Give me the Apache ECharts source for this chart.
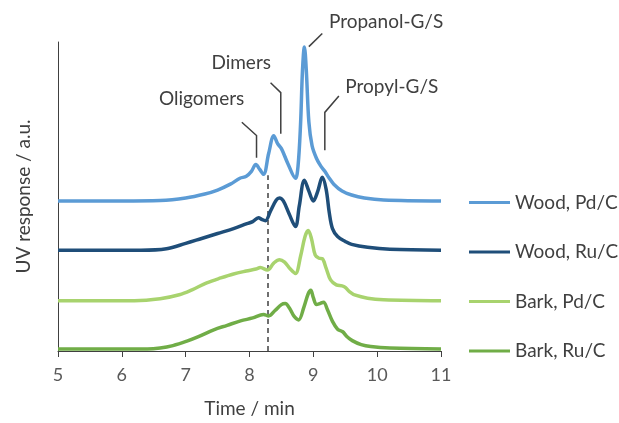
<!DOCTYPE html>
<html>
<head>
<meta charset="utf-8">
<script src="https://cdn.jsdelivr.net/npm/echarts@6/dist/echarts.min.js"></script>
<style>
  html, body { margin: 0; padding: 0; background: #ffffff; }
  #chart { width: 619px; height: 423px; }
</style>
</head>
<body>
<div id="chart"></div>
<script>
// Chromatogram traces: [time / min, UV response above each trace's own baseline]
const woodPd = [[5,0],[6,0],[6.6,0.5],[7,3],[7.3,7],[7.5,11],[7.7,17],[7.85,23],[7.95,25],[8.03,30],[8.1,37],[8.16,32],[8.22,27],[8.3,48],[8.38,66],[8.44,58],[8.5,53],[8.6,38],[8.72,23],[8.76,35],[8.8,78],[8.83,132],[8.86,156],[8.89,132],[8.93,80],[8.98,56],[9.05,43],[9.12,35],[9.18,30],[9.25,23],[9.32,17],[9.45,10],[9.6,6],[9.8,3],[10.1,1],[11,0]];
const woodRu = [[5,0],[6.3,0],[6.7,1.5],[7.0,7],[7.25,12],[7.5,17],[7.75,22],[7.96,27],[8.05,29],[8.14,33],[8.2,31],[8.25,30],[8.33,40],[8.42,51],[8.47,53],[8.53,50],[8.62,37],[8.72,24],[8.78,45],[8.86,71],[8.93,60],[9.0,50],[9.07,60],[9.14,74],[9.2,62],[9.25,38],[9.3,22],[9.38,14],[9.5,9],[9.6,6],[9.85,3],[10.2,1],[11,0]];
const barkPd = [[5,0],[6.2,0],[6.6,2],[6.9,6],[7.1,11],[7.33,18],[7.55,23],[7.75,27],[7.95,30],[8.1,32],[8.17,33.5],[8.28,31],[8.38,38],[8.47,41.5],[8.55,39],[8.64,32],[8.72,27.5],[8.8,45],[8.87,65],[8.92,71],[8.97,63],[9.03,46],[9.09,43],[9.14,42.5],[9.2,33],[9.27,21],[9.36,16],[9.45,15],[9.5,13.5],[9.57,9],[9.66,5.5],[9.85,2.5],[10.1,1],[11,0]];
const barkRu = [[5,0],[6.4,0],[6.6,1],[6.8,3.5],[7.02,8],[7.2,12.5],[7.44,19.5],[7.65,24],[7.86,28.5],[8.05,31.5],[8.22,35],[8.3,33.5],[8.4,39],[8.5,45],[8.56,46],[8.63,41],[8.7,33],[8.77,29.5],[8.85,42],[8.92,56],[8.96,59.5],[9.0,52],[9.05,45],[9.1,46],[9.16,47.5],[9.22,40],[9.3,28],[9.38,20],[9.46,17.5],[9.52,13],[9.61,8.5],[9.75,4.5],[9.9,2.5],[10.2,1],[11,0]];

const seriesNames = ['Wood, Pd/C', 'Wood, Ru/C', 'Bark, Pd/C', 'Bark, Ru/C'];
const seriesColors = ['#5b9bd5', '#1f4e79', '#a8d36e', '#70ad47'];
// vertical stacking offset of each trace
const seriesOffsets = [152, 102, 51, 2];
const traces = [woodPd, woodRu, barkPd, barkRu];

const xTicks = { min: 5, max: 11, interval: 1 };
const yRange = { min: 0, max: 313 };

// separation between oligomers and dimers
const cutTime = 8.28;
const cutTop = 178;

// peak annotations: label centre and leader line path, in data units
const annotations = [
  { text: 'Oligomers', at: [7.25, 255], path: [[7.88, 231.7], [8.11, 218.3], [8.11, 195.7]] },
  { text: 'Dimers', at: [7.87, 291.7], path: [[8.33, 271.7], [8.49, 261.7], [8.49, 220]] },
  { text: 'Propanol-G/S', at: [10.14, 333.3], path: [[8.93, 308.3], [9.14, 321.7]] },
  { text: 'Propyl-G/S', at: [10.23, 267.7], path: [[9.40, 258.3], [9.18, 241.7], [9.18, 203.3]] }
];

const FONT = 'Lato';
const TEXT = '#404040';

const chart = echarts.init(document.getElementById('chart'), null, { renderer: 'canvas' });

const lineSeries = traces.map((pts, i) => ({
  name: seriesNames[i],
  type: 'line',
  data: pts.map(p => [p[0], p[1] + seriesOffsets[i]]),
  smooth: 0.35,
  symbol: 'none',
  z: 10 - i,
  lineStyle: { color: seriesColors[i], width: 3.5 },
  itemStyle: { color: seriesColors[i] }
}));

const cutSeries = {
  name: 'cut',
  type: 'line',
  data: [],
  silent: true,
  markLine: {
    silent: true,
    symbol: 'none',
    animation: false,
    label: { show: false },
    lineStyle: { type: [5, 4], color: '#404040', width: 1.5 },
    data: [[{ coord: [cutTime, 0] }, { coord: [cutTime, cutTop] }]]
  }
};

chart.setOption({
  animation: false,
  backgroundColor: '#ffffff',
  grid: { left: 58, right: 178, top: 42, bottom: 68 },
  legend: {
    data: seriesNames,
    orient: 'vertical',
    left: 469,
    top: 193,
    padding: 0,
    icon: 'rect',
    itemWidth: 41,
    itemHeight: 3,
    itemGap: 30.5,
    textStyle: { color: TEXT, fontFamily: FONT, fontSize: 19 }
  },
  xAxis: {
    type: 'value',
    min: xTicks.min,
    max: xTicks.max,
    interval: xTicks.interval,
    name: 'Time / min',
    nameLocation: 'middle',
    nameGap: 48,
    nameTextStyle: { color: TEXT, fontFamily: FONT, fontSize: 19 },
    axisLine: { show: true, onZero: false, lineStyle: { color: '#404040', width: 1 } },
    axisTick: { show: true, length: 6, lineStyle: { color: '#404040' } },
    axisLabel: { color: '#595959', fontFamily: FONT, fontSize: 18, margin: 15 },
    splitLine: { show: false }
  },
  yAxis: {
    type: 'value',
    min: yRange.min,
    max: yRange.max,
    name: 'UV response / a.u.',
    nameLocation: 'middle',
    nameGap: 25,
    nameTextStyle: { color: TEXT, fontFamily: FONT, fontSize: 19 },
    axisLine: { show: true, lineStyle: { color: '#404040', width: 1 } },
    axisTick: { show: false },
    axisLabel: { show: false },
    splitLine: { show: false }
  },
  series: lineSeries.concat([cutSeries])
});

// Peak labels and leader lines, placed through the axes' own scales
const toPx = p => chart.convertToPixel({ gridIndex: 0 }, p);
const graphics = [];
annotations.forEach(a => {
  graphics.push({
    type: 'polyline',
    silent: true,
    shape: { points: a.path.map(toPx) },
    style: { stroke: '#404040', lineWidth: 1.5, fill: null }
  });
  const c = toPx(a.at);
  graphics.push({
    type: 'text',
    silent: true,
    x: c[0],
    y: c[1],
    style: {
      text: a.text,
      fill: TEXT,
      font: '19px ' + FONT,
      align: 'center',
      verticalAlign: 'middle'
    }
  });
});
chart.setOption({ graphic: graphics });
</script>
</body>
</html>
